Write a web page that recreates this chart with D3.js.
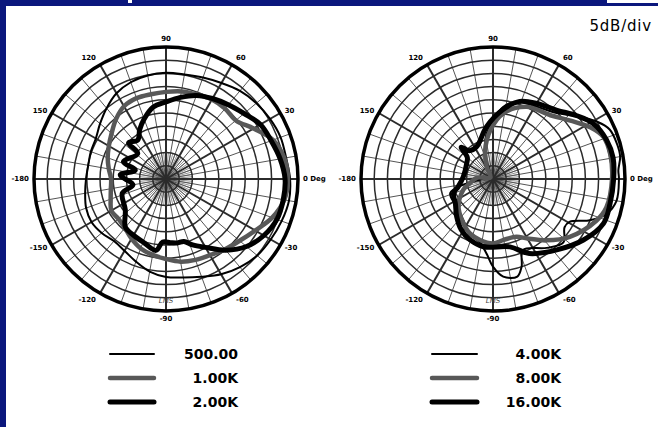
<!DOCTYPE html>
<html>
<head>
<meta charset="utf-8">
<script src="https://cdn.jsdelivr.net/npm/d3@7/dist/d3.min.js"></script>
<style>
  body { margin: 0; background: #fff; }
  svg { display: block; }
</style>
</head>
<body>
<svg id="chart" width="658" height="427"></svg>
<script>
// angle ticks (deg, counter-clockwise from right) and their labels
const angleTicks = [0, 30, 60, 90, 120, 150, 180, -150, -120, -90, -60, -30];
const angleLabels = ['0 Deg', '30', '60', '90', '120', '150', '-180', '-150', '-120', '-90', '-60', '-30'];
const dbDomain = [-50, 0];   // 10 divisions of 5 dB
const dbStep = 5;

const leftNames = ['500.00', '1.00K', '2.00K'];
const rightNames = ['4.00K', '8.00K', '16.00K'];

// [angle deg, level dB]
const f500 = [[0,-3],[10,-3.8],[20,-3.8],[30,-4.5],[40,-5.3],[50,-6.4],[60,-8],[70,-9.1],[80,-9.8],[90,-9.8],
  [100,-10.2],[110,-11],[120,-12.5],[130,-15],[140,-17.4],[150,-19.3],[160,-19.7],[170,-20.1],[180,-19.7],
  [190,-18.9],[200,-17.8],[210,-17.4],[220,-18.2],[230,-19.3],[240,-18.6],[250,-16.7],[260,-14.4],[270,-12.9],
  [280,-12.1],[290,-10.6],[300,-8.3],[310,-6.4],[320,-4.9],[330,-4.2],[340,-3.4],[350,-2.7]];

const f1k = [[0,-3.8],[10,-4.5],[20,-6.8],[30,-11.7],[40,-15.5],[50,-15.2],[60,-15.2],[70,-15.9],[80,-16.3],
  [90,-17],[100,-17.4],[110,-17.4],[120,-18.2],[130,-20.5],[140,-23.1],[150,-25],[160,-26.5],[170,-28],
  [180,-29.2],[190,-28.8],[200,-27.7],[210,-26.1],[220,-26.5],[230,-25.8],[240,-23.9],[250,-22],[260,-20.8],
  [270,-19.7],[280,-18.2],[290,-17.4],[300,-16.7],[310,-15.2],[320,-13.6],[330,-11],[340,-7.2],[350,-4.5]];

const f2k = [[0,-4.9],[10,-6.1],[20,-7.6],[30,-8.7],[40,-11.4],[50,-13.3],[60,-14.8],[70,-16.3],[80,-18.6],
  [90,-20.8],[100,-22.3],[110,-25.8],[118,-28.8],[126,-31.8],[136,-30.3],[138,-35.6],[158,-32.6],[164,-37.9],
  [175,-32.6],[190,-37.3],[198,-32.6],[217,-30.7],[230,-26.1],[240,-25.4],[250,-24.6],[262,-22.7],[267,-26.1],
  [274,-25.8],[280,-25.4],[286,-25.4],[292,-23.1],[300,-20.1],[310,-14.8],[320,-10.2],[330,-7.2],[340,-5.3],[350,-4.9]];

const f4k = [[0,-2.3],[4,-2.4],[10,-1.1],[16,-1.2],[23,-2],[29,-5.1],[37,-10.5],[46,-15.3],[59,-18],[73,-19.4],
  [82,-22.5],[98,-32.6],[107,-39.8],[112,-46.4],[140,-49.2],[175,-47],[198,-33],[217,-32.7],[234,-30.8],
  [247,-27.6],[259,-25.2],[265,-21.7],[270,-16.8],[276,-12.8],[284,-11.9],[288,-15],[293,-20.8],[308,-16.9],
  [318,-14.1],[326,-17.3],[331,-16.7],[337,-10.1],[343,-5],[350,-2.5]];

const f8k = [[0,-4.9],[12,-4.6],[21,-5.3],[28,-8.3],[37,-13.3],[48,-17.5],[65,-19.8],[81,-24.8],[93,-31.4],
  [105,-38.6],[117,-44.8],[150,-48.9],[175,-44],[190,-41.2],[200,-38],[219,-33.2],[233,-30.5],[247,-27.6],
  [258,-26.4],[270,-25.6],[280,-26.6],[292,-26.4],[300,-24],[311,-19.2],[323,-13.6],[338,-7.8],[346,-5.7]];

const f16k = [[0,-4.3],[10,-3.8],[19,-4.5],[29,-6.6],[37,-10.2],[47,-14.4],[60,-16.9],[71,-18.9],[82,-23.5],
  [97,-30],[117,-36.3],[130,-36],[135,-33],[140,-37.3],[149,-38.4],[176,-38.7],[192,-36.6],[200,-34.1],
  [213,-33],[226,-30.2],[238,-27.3],[249,-25.4],[262,-24.1],[284,-23.5],[296,-18.6],[312,-13.9],[326,-8.7],
  [338,-4.9],[348,-4.7]];

const lineStyles = [
  { color: '#000', width: 2 },
  { color: '#585858', width: 4.5 },
  { color: '#000', width: 5 }
];

const svg = d3.select('#chart');
const R = 132;
const rScale = d3.scaleLinear().domain(dbDomain).range([0, R]).clamp(true);
const rad = d => (90 - d) * Math.PI / 180; // d3 radial angle: 0 at top, clockwise

// frame
svg.append('rect').attr('width', 658).attr('height', 427).attr('fill', '#fff');
svg.append('rect').attr('x', 0).attr('y', 0).attr('width', 658).attr('height', 6).attr('fill', '#0b177d');
svg.append('rect').attr('x', 0).attr('y', 0).attr('width', 6).attr('height', 427).attr('fill', '#0b177d');
svg.append('rect').attr('x', 607).attr('y', 0).attr('width', 51).attr('height', 3).attr('fill', '#fff');
svg.append('rect').attr('x', 128).attr('y', 0).attr('width', 4).attr('height', 3).attr('fill', '#fff');

function drawPolar(cx, cy, series) {
  const g = svg.append('g').attr('transform', `translate(${cx},${cy})`);

  // inner fine spokes every 5 deg
  g.selectAll('.fine').data(d3.range(0, 360, 5)).enter().append('line')
    .attr('x1', 0).attr('y1', 0)
    .attr('x2', d => rScale(-40) * Math.cos(d * Math.PI / 180))
    .attr('y2', d => -rScale(-40) * Math.sin(d * Math.PI / 180))
    .attr('stroke', '#666').attr('stroke-width', 0.7);

  // minor spokes every 10 deg
  g.selectAll('.minor').data(d3.range(0, 360, 10).filter(d => d % 30 !== 0)).enter().append('line')
    .attr('x1', 0).attr('y1', 0)
    .attr('x2', d => R * Math.cos(d * Math.PI / 180))
    .attr('y2', d => -R * Math.sin(d * Math.PI / 180))
    .attr('stroke', '#555').attr('stroke-width', 1);

  // rings
  g.selectAll('.ring').data(d3.range(dbDomain[0] + dbStep, 0, dbStep)).enter().append('circle')
    .attr('r', d => rScale(d)).attr('fill', 'none')
    .attr('stroke', '#2b2b2b').attr('stroke-width', 1.5);

  // major spokes
  g.selectAll('.major').data(angleTicks).enter().append('line')
    .attr('x1', 0).attr('y1', 0)
    .attr('x2', d => R * Math.cos(d * Math.PI / 180))
    .attr('y2', d => -R * Math.sin(d * Math.PI / 180))
    .attr('stroke', '#2b2b2b').attr('stroke-width', 2);

  // outer circle
  g.append('circle').attr('r', R).attr('fill', 'none').attr('stroke', '#000').attr('stroke-width', 3.5);

  // angle labels
  angleTicks.forEach((a, i) => {
    const c = Math.cos(a * Math.PI / 180), s = Math.sin(a * Math.PI / 180);
    const rr = R + (Math.abs(c) > 0.8 ? 5 : 8);
    g.append('text')
      .attr('x', rr * c).attr('y', -rr * s)
      .attr('text-anchor', c > 0.3 ? 'start' : (c < -0.3 ? 'end' : 'middle'))
      .attr('dominant-baseline', 'central')
      .attr('font-family', 'DejaVu Sans, Verdana, sans-serif')
      .attr('font-weight', 'bold').attr('font-size', 7)
      .attr('fill', '#000')
      .text(angleLabels[i]);
  });

  g.append('text').attr('x', 0).attr('y', R - 8)
    .attr('text-anchor', 'middle')
    .attr('font-family', 'DejaVu Sans, sans-serif').attr('font-style', 'italic')
    .attr('font-size', 7).attr('fill', '#444').text('LMS');

  const line = d3.lineRadial()
    .angle(d => rad(d[0]))
    .radius(d => rScale(d[1]))
    .curve(d3.curveCatmullRomClosed.alpha(0.5));

  series.forEach((data, i) => {
    g.append('path').attr('d', line(data))
      .attr('fill', 'none')
      .attr('stroke', lineStyles[i].color)
      .attr('stroke-width', lineStyles[i].width)
      .attr('stroke-linejoin', 'round');
  });
}

drawPolar(166, 179, [f500, f1k, f2k]);
drawPolar(493, 179, [f4k, f8k, f16k]);

function drawLegend(x1, x2, textX, names) {
  names.forEach((name, i) => {
    const y = 354 + i * 24;
    svg.append('line').attr('x1', x1).attr('x2', x2).attr('y1', y).attr('y2', y)
      .attr('stroke', lineStyles[i].color).attr('stroke-width', lineStyles[i].width)
      .attr('stroke-linecap', 'round');
    svg.append('text').attr('x', textX).attr('y', y + 5)
      .attr('text-anchor', 'end')
      .attr('font-family', 'DejaVu Sans, Verdana, sans-serif')
      .attr('font-weight', 'bold').attr('font-size', 14)
      .text(name);
  });
}
drawLegend(110, 154, 238, leftNames);
drawLegend(432, 477, 561, rightNames);

svg.append('text').attr('x', 652).attr('y', 31)
  .attr('text-anchor', 'end')
  .attr('font-family', 'DejaVu Sans, Verdana, sans-serif')
  .attr('font-size', 15).attr('letter-spacing', 0.8)
  .text('5dB/div');
</script>
</body>
</html>
